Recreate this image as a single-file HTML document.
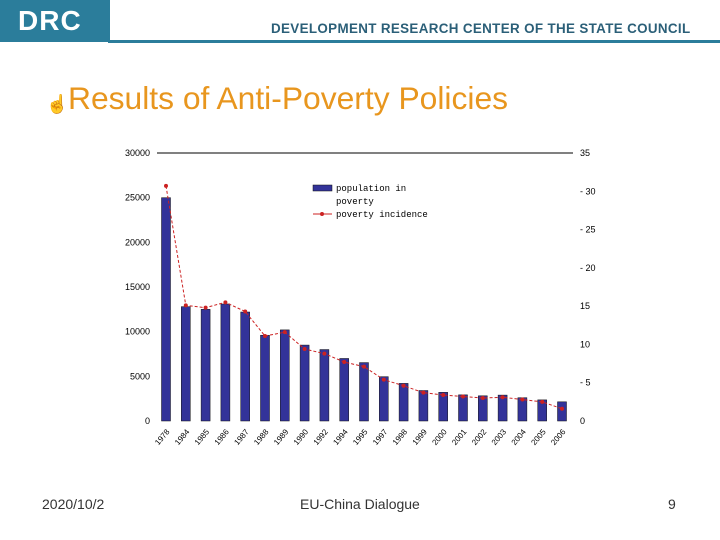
<!DOCTYPE html>
<html><head><meta charset="utf-8"><style>
body{margin:0;width:720px;height:540px;background:#fff;position:relative;overflow:hidden;font-family:"Liberation Sans",sans-serif}
.abs{position:absolute}
</style></head><body>
<div class="abs" style="left:0;top:0;width:110px;height:42px;background:#2b7d9b;color:#fff;font-weight:bold;font-size:28px;line-height:42px;text-indent:18px;letter-spacing:1px">DRC</div>
<div class="abs" style="left:108px;top:40px;width:612px;height:3px;background:#2b7d9b"></div>
<div class="abs" style="left:271px;top:21px;font-size:13.4px;font-weight:bold;color:#2b5f78;letter-spacing:0.35px;white-space:nowrap">DEVELOPMENT RESEARCH CENTER OF THE STATE COUNCIL</div>
<div class="abs" style="left:46px;top:94px;font-size:18px;color:#e8961e">☝</div>
<div class="abs" style="left:68px;top:80px;font-size:31.8px;color:#e8961e;white-space:nowrap">Results of Anti-Poverty Policies</div>
<svg class="abs" style="left:0;top:0" width="720" height="540" id="chart"></svg>
<div class="abs" style="left:42px;top:496px;font-size:14px;color:#333">2020/10/2</div>
<div class="abs" style="left:300px;top:496px;font-size:14px;color:#333">EU-China Dialogue</div>
<div class="abs" style="left:668px;top:496px;font-size:14px;color:#333">9</div>
<script>
const years=["1978","1984","1985","1986","1987","1988","1989","1990","1992","1994","1995","1997","1998","1999","2000","2001","2002","2003","2004","2005","2006"];
const population=[25000,12800,12500,13100,12200,9600,10200,8500,8000,7000,6540,4962,4210,3412,3209,2927,2820,2900,2610,2365,2148];
const incidence=[30.7,15.1,14.8,15.5,14.3,11.1,11.6,9.4,8.8,7.7,7.1,5.4,4.6,3.7,3.4,3.2,3.0,3.1,2.8,2.5,1.6];
const leftTicks=[0,5000,10000,15000,20000,25000,30000];
const rightTicks=[0,5,10,15,20,25,30,35];
const svg=document.getElementById('chart');const NS='http://www.w3.org/2000/svg';
function mk(t,a,txt){const e=document.createElementNS(NS,t);for(const k in a)e.setAttribute(k,a[k]);if(txt!=null)e.textContent=txt;svg.appendChild(e);return e;}
const y0=421,y1=153;
const yL=v=>y0-(v/30000)*(y0-y1);
const yR=v=>y0-(v/35)*(y0-y1);
const xC=i=>166+i*19.8;
let e=mk('line',{x1:157,x2:573,y1:153,y2:153,stroke:'#000','stroke-width':1});

leftTicks.forEach(t=>{const el=mk('text',{x:150,y:yL(t)+3,'text-anchor':'end','font-size':9,fill:'#000'},t);
});
rightTicks.forEach(t=>{const el=mk('text',{x:580,y:yR(t)+3,'font-size':9,fill:'#000'},(t>0&&t<35&&t!=10&&t!=15?'-  ':'')+t);
});
population.forEach((v,i)=>{const b=mk('rect',{x:xC(i)-4.5,y:yL(v),width:9,height:y0-yL(v),fill:'#333399',stroke:'#111','stroke-width':0.5});
});
const pts=incidence.map((v,i)=>xC(i)+','+yR(v)).join(' ');
const pl=mk('polyline',{points:pts,fill:'none',stroke:'#cc2222','stroke-width':1,'stroke-dasharray':'3,2'});

incidence.forEach((v,i)=>{const p=mk('circle',{cx:xC(i),cy:yR(v),r:2,fill:'#cc2222'});
});
years.forEach((y,i)=>{const t=mk('text',{x:xC(i)+4,y:432,'font-size':8,'text-anchor':'end',transform:'rotate(-50 '+(xC(i)+4)+' 432)',fill:'#000'},y);
});
const lg=mk('rect',{x:313,y:185,width:19,height:6,fill:'#333399',stroke:'#111','stroke-width':0.5});

let lt=mk('text',{x:336,y:191,'font-size':9,'font-family':'Liberation Mono,monospace'},'population in');

lt=mk('text',{x:336,y:204,'font-size':9,'font-family':'Liberation Mono,monospace'},'poverty');

const ll=mk('line',{x1:313,x2:332,y1:214,y2:214,stroke:'#cc2222'});

const lc=mk('circle',{cx:322,cy:214,r:2,fill:'#cc2222'});

lt=mk('text',{x:336,y:217,'font-size':9,'font-family':'Liberation Mono,monospace'},'poverty incidence');

</script>
</body></html>
